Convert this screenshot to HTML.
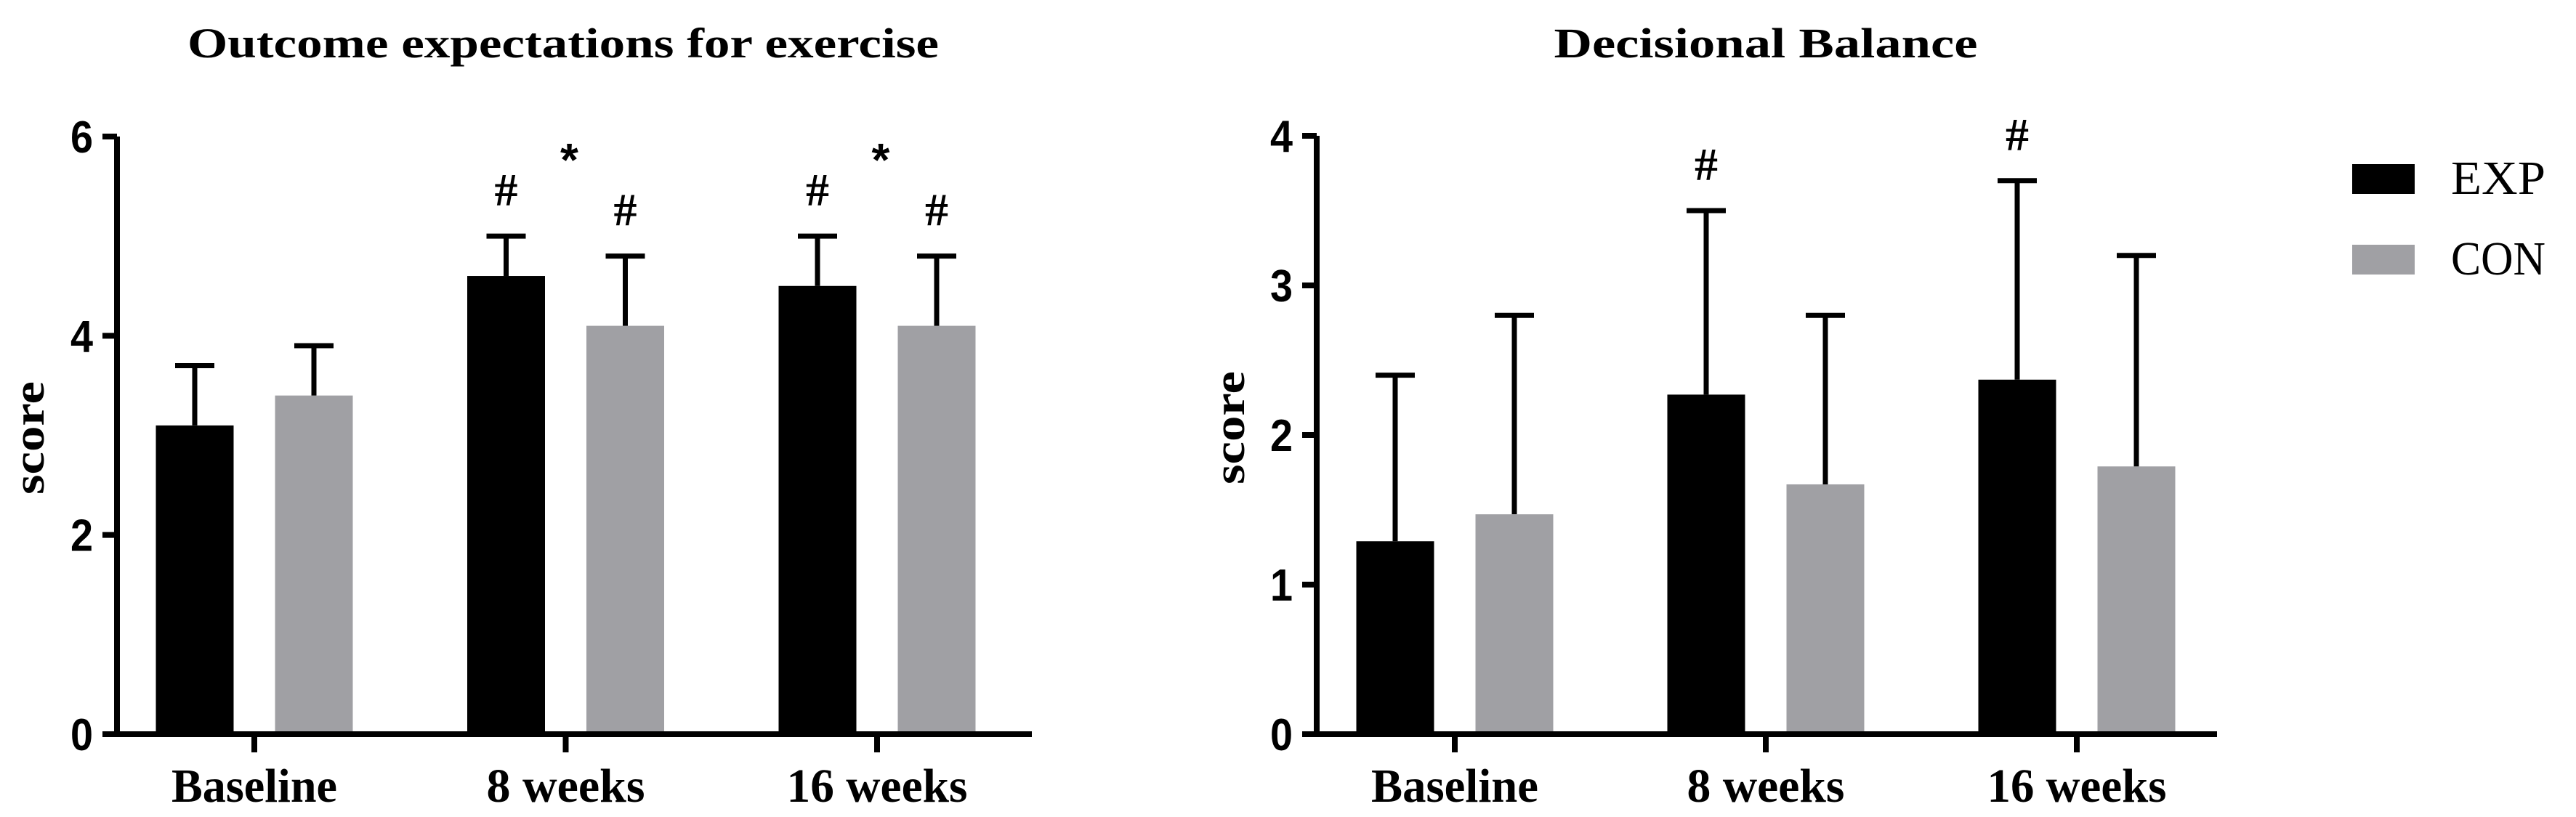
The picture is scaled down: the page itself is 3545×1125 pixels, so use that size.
<!DOCTYPE html>
<html><head><meta charset="utf-8"><style>
html,body{margin:0;padding:0;background:#fff;}
svg{display:block;}
</style></head><body>
<svg id="chart" width="3545" height="1125" viewBox="0 0 3545 1125" xmlns="http://www.w3.org/2000/svg">
<g id="left"></g>
<g id="right"></g>
<g id="legend"></g>
</svg>
<script>
const categories = ["Baseline", "8 weeks", "16 weeks"];
const leftExp = [3.1, 4.6, 4.5];
const leftCon = [3.4, 4.1, 4.1];
const leftExpErr = [0.6, 0.4, 0.5];
const leftConErr = [0.5, 0.7, 0.7];
const leftTicks = [0, 2, 4, 6];
const rightExp = [1.29, 2.27, 2.37];
const rightCon = [1.47, 1.67, 1.79];
const rightExpErr = [1.11, 1.23, 1.33];
const rightConErr = [1.33, 1.13, 1.41];
const rightTicks = [0, 1, 2, 3, 4];
const leftExpMarks = ["", "#", "#"];
const leftConMarks = ["", "#", "#"];
const leftGroupMarks = ["", "*", "*"];
const rightExpMarks = ["", "#", "#"];
const rightConMarks = ["", "", ""];

const NS = "http://www.w3.org/2000/svg";
function mk(parent, tag, attrs, text) {
  const e = document.createElementNS(NS, tag);
  for (const k in attrs) e.setAttribute(k, attrs[k]);
  if (text !== undefined) e.textContent = text;
  parent.appendChild(e);
  return e;
}
const SERIF = '"Liberation Serif", serif';
const SANS = '"Liberation Sans", sans-serif';

function drawChart(g, cfg) {
  const y = v => cfg.y0 - (v / cfg.max) * (cfg.y0 - cfg.yTop);
  const cx = i => cfg.c0 + i * cfg.step;
  const t = mk(g, "text", {x: cfg.titleX, y: 79, "text-anchor": "middle", "font-family": SERIF, "font-weight": "bold", "font-size": 58, textLength: cfg.titleW, lengthAdjust: "spacingAndGlyphs"}, cfg.title);
  
  
  const yl = mk(g, "text", {x: 0, y: 0, transform: `translate(${cfg.ylX},${cfg.ylY}) rotate(-90)`, "text-anchor": "middle", "font-family": SERIF, "font-weight": "bold", "font-size": 60, textLength: 156, lengthAdjust: "spacingAndGlyphs"}, "score");
  
  
  const bw = 107, off = 82;
  cfg.exp.forEach((v, i) => {
    const series = [[cfg.exp, cfg.expErr, "#000", -1, cfg.expMarks, "exp"], [cfg.con, cfg.conErr, "#a0a0a4", 1, cfg.conMarks, "con"]];
    series.forEach(s => {
      const val = s[0][i], err = s[1][i];
      const mid = cx(i) + s[3] * off;
      const bx = mid - bw / 2;
      const r = mk(g, "rect", {x: bx, y: y(val), width: bw, height: cfg.y0 - y(val), fill: s[2]});
      
      
      const top = y(val + err);
      const eb = mk(g, "path", {d: `M${mid},${y(val)} V${top} M${mid - 27},${top} H${mid + 27}`, stroke: "#000", "stroke-width": 7, fill: "none"});
      
      
      if (s[4][i]) {
        const m = mk(g, "text", {x: mid, y: top - 42, "text-anchor": "middle", "font-family": SERIF, "font-weight": "bold", "font-size": 64}, s[4][i]);
        
        
      }
    });
    if (cfg.groupMarks && cfg.groupMarks[i]) {
      const st = mk(g, "text", {x: cx(i) + 5, y: 242, "text-anchor": "middle", "font-family": SANS, "font-weight": "bold", "font-size": 64}, cfg.groupMarks[i]);
      
      
    }
  });
  const ax = mk(g, "path", {d: `M${cfg.ax},${cfg.yTop} V${cfg.y0} M${cfg.ax - 4},${cfg.y0} H${cfg.xEnd}`, stroke: "#000", "stroke-width": 8, fill: "none"});
  
  
  cfg.ticks.forEach(tv => {
    const tk = mk(g, "path", {d: `M${cfg.ax - 20},${y(tv)} H${cfg.ax}`, stroke: "#000", "stroke-width": 8});
    
    
    const tl = mk(g, "text", {x: cfg.ax - 33, y: y(tv) + 22, "text-anchor": "end", "font-family": SANS, "font-weight": "bold", "font-size": 62, textLength: 31, lengthAdjust: "spacingAndGlyphs"}, String(tv));
    
    
  });
  categories.forEach((c, i) => {
    const tk = mk(g, "path", {d: `M${cx(i)},${cfg.y0} V${cfg.y0 + 25}`, stroke: "#000", "stroke-width": 8});
    
    
    const tl = mk(g, "text", {x: cx(i), y: 1104, "text-anchor": "middle", "font-family": SERIF, "font-weight": "bold", "font-size": 66, textLength: cfg.labelW[i], lengthAdjust: "spacingAndGlyphs"}, c);
    
    
  });
}

drawChart(document.getElementById("left"), {
  title: "Outcome expectations for exercise", titleX: 775, titleW: 1034,
  ylX: 60, ylY: 603, y0: 1011, yTop: 188, max: 6, ax: 161, xEnd: 1420,
  c0: 350, step: 428.5, exp: leftExp, con: leftCon, expErr: leftExpErr, conErr: leftConErr,
  ticks: leftTicks, expMarks: leftExpMarks, conMarks: leftConMarks, groupMarks: leftGroupMarks,
  labelW: [228, 218, 249]
});
drawChart(document.getElementById("right"), {
  title: "Decisional Balance", titleX: 2430, titleW: 583,
  ylX: 1712, ylY: 589, y0: 1011, yTop: 187, max: 4, ax: 1812, xEnd: 3051,
  c0: 2002, step: 428, exp: rightExp, con: rightCon, expErr: rightExpErr, conErr: rightConErr,
  ticks: rightTicks, expMarks: rightExpMarks, conMarks: rightConMarks, groupMarks: null,
  labelW: [230, 217, 247]
});

const lg = document.getElementById("legend");
const legendNames = ["EXP", "CON"];
const legendColors = ["#000", "#a0a0a4"];
legendNames.forEach((n, i) => {
  const yy = 226 + i * 111;
  const sw = mk(lg, "rect", {x: 3237, y: yy, width: 86, height: 41, fill: legendColors[i]});
  
  
  const tx = mk(lg, "text", {x: 3373, y: yy + 41, "font-family": SERIF, "font-size": 66, textLength: 130, lengthAdjust: "spacingAndGlyphs"}, n);
  
  
});
</script>
</body></html>
